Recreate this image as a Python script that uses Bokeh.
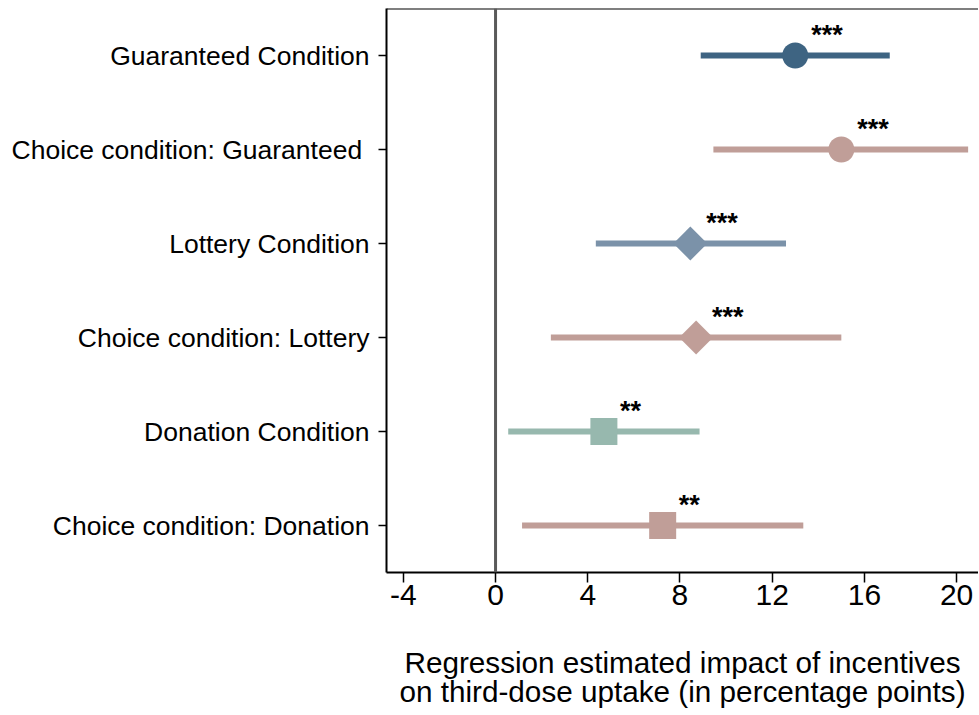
import math
from bokeh.plotting import figure
from bokeh.models import ColumnDataSource, FactorRange, Range1d, FixedTicker, Span
from bokeh.core.properties import value
from bokeh.embed import file_html
from bokeh.resources import INLINE

# ---- data ----
labels = [
    "Guaranteed Condition",
    "Choice condition: Guaranteed ",
    "Lottery Condition",
    "Choice condition: Lottery",
    "Donation Condition",
    "Choice condition: Donation",
]
estimates = [13.0, 15.0, 8.45, 8.7, 4.7, 7.25]
ci_low = [8.9, 9.45, 4.35, 2.4, 0.55, 1.15]
ci_high = [17.1, 20.5, 12.6, 15.0, 8.85, 13.35]
stars = ["***", "***", "***", "***", "**", "**"]
x_ticks = [-4, 0, 4, 8, 12, 16, 20]
x_tick_labels = ["-4", "0", "4", "8", "12", "16", "20"]
x_title = "Regression estimated impact of incentives\non third-dose uptake (in percentage points)"

# ---- styles ----
colors = ["#3e6482", "#c09e98", "#7b92a9", "#c09e98", "#97b8ae", "#c09e98"]
markers = ["circle", "circle", "square", "square", "square", "square"]
angles = [0, 0, math.pi / 4, math.pi / 4, 0, 0]
sizes = [26, 26, 24, 24, 27, 27]

FONT = "Liberation Sans"

src = ColumnDataSource(dict(
    label=labels, est=estimates, lo=ci_low, hi=ci_high, stars=stars,
    color=colors, marker=markers, angle=angles, size=sizes,
))

p = figure(
    y_range=FactorRange(factors=labels[::-1], range_padding=0),
    x_range=Range1d(-4.73, 20.95),
    frame_width=592, frame_height=564,
    min_border_left=386, min_border_top=8, min_border_right=0, min_border_bottom=0,
    output_backend="svg", toolbar_location=None,
)
p.outline_line_color = None
p.xgrid.visible = False
p.ygrid.visible = False
p.background_fill_color = "white"
p.border_fill_color = "white"

# top frame line and zero line
p.add_layout(Span(location=6, dimension="width", line_color="black", line_width=2))
p.add_layout(Span(location=0, dimension="height", line_color="#5a5a5a", line_width=3))

p.segment(x0="lo", y0="label", x1="hi", y1="label", line_width=6,
          line_color="color", line_cap="butt", source=src)
p.scatter(x="est", y="label", marker="marker", size="size", angle="angle",
          fill_color="color", line_color=None, source=src)
p.text(x="est", y="label", text="stars", x_offset=16, y_offset=-21,
       text_font=value(FONT), text_font_style="bold", text_font_size="27px",
       text_baseline="alphabetic", text_align="left", text_color="black", source=src)

# x axis
xa = p.xaxis[0]
xa.ticker = FixedTicker(ticks=x_ticks)
xa.major_label_overrides = {t: s for t, s in zip(x_ticks, x_tick_labels)}
xa.minor_tick_line_color = None
xa.major_tick_out = 10
xa.major_tick_in = 0
xa.major_tick_line_width = 1.5
xa.axis_line_width = 2
xa.axis_line_color = "black"
xa.major_label_text_font = FONT
xa.major_label_text_font_size = "30px"
xa.major_label_text_color = "black"
xa.major_label_standoff = 2
xa.axis_label = x_title
xa.axis_label_text_font = FONT
xa.axis_label_text_font_size = "29.7px"
xa.axis_label_text_line_height = 0.9
xa.axis_label_text_font_style = "normal"
xa.axis_label_text_color = "black"
xa.axis_label_standoff = 38

# y axis
ya = p.yaxis[0]
ya.major_tick_out = 8
ya.major_tick_in = 0
ya.major_tick_line_width = 1.5
ya.axis_line_width = 2
ya.axis_line_color = "black"
ya.major_label_text_font = FONT
ya.major_label_text_font_size = "26.5px"
ya.major_label_text_color = "black"
ya.major_label_standoff = 9

open("out.html", "w").write(file_html(p, INLINE))
